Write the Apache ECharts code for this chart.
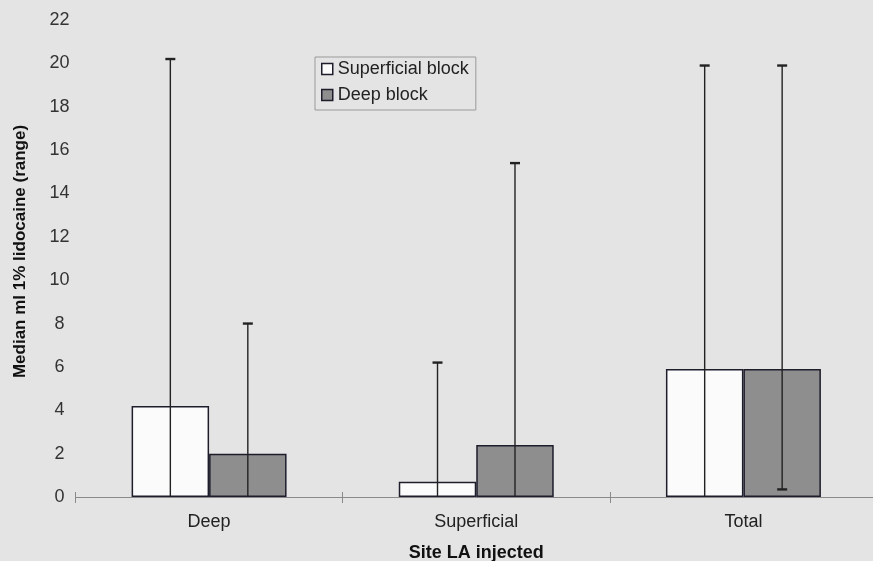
<!DOCTYPE html>
<html><head><meta charset="utf-8">
<script src="https://cdn.jsdelivr.net/npm/echarts@6/dist/echarts.min.js"></script>
<style>html,body{margin:0;padding:0;background:#e4e4e4}#c{width:873px;height:561px}</style>
</head><body><div id="c"></div>
<script>
// ---- data ----
const categories = ['Deep', 'Superficial', 'Total'];
const seriesNames = ['Superficial block', 'Deep block'];
const superficialMedian = [4.2, 0.7, 5.9];
const deepMedian = [2.0, 2.4, 5.9];
const superficialRangeLow = [0, 0, 0];
const superficialRangeHigh = [20.2, 6.2, 19.9];
const deepRangeLow = [0, 0, 0.35];
const deepRangeHigh = [8.0, 15.4, 19.9];
const yMin = 0, yMax = 22, yStep = 2;
const xTitle = 'Site LA injected';
const yTitle = 'Median ml 1% lidocaine (range)';

const CAT_GAP = 0.42;
const FONT = 'Liberation Sans, Arial, sans-serif';
const EDGE = '#1d1d2c';

function errorData(lo, hi) {
  return categories.map((c, i) => [i, lo[i], hi[i]]);
}
function makeErrorRenderer(side) {
  return function (params, api) {
    const cat = api.value(0), lo = api.value(1), hi = api.value(2);
    const band = api.size([1, 0])[0];
    const bw = band * (1 - CAT_GAP) / 2;
    const cx = api.coord([cat, 0])[0] + side * bw / 2;
    const yLo = api.coord([cat, lo])[1];
    const yHi = api.coord([cat, hi])[1];
    const cap = 5;
    const children = [
      { type: 'line', shape: { x1: cx, y1: yLo, x2: cx, y2: yHi }, style: { stroke: '#222', lineWidth: 1.4 } },
      { type: 'line', shape: { x1: cx - cap, y1: yHi, x2: cx + cap, y2: yHi }, style: { stroke: '#222', lineWidth: 2.4 } }
    ];
    if (lo > 0) {
      children.push({ type: 'line', shape: { x1: cx - cap, y1: yLo, x2: cx + cap, y2: yLo }, style: { stroke: '#222', lineWidth: 2.4 } });
    }
    return { type: 'group', children: children };
  };
}

const chart = echarts.init(document.getElementById('c'), null, { renderer: 'canvas' });
chart.setOption({
  backgroundColor: '#e4e4e4',
  animation: false,
  textStyle: { fontFamily: FONT },
  grid: { left: 75.5, right: -4, top: 20, bottom: 64, containLabel: false, outerBoundsMode: 'none' },
  legend: {
    orient: 'vertical', left: 315, top: 57,
    padding: [3, 7, 6, 6], itemGap: 8,
    itemWidth: 11, itemHeight: 11,
    borderColor: '#9a9a9a', borderWidth: 1,
    textStyle: { fontSize: 18, color: '#222', fontFamily: FONT },
    data: [
      { name: seriesNames[0], icon: 'rect', itemStyle: { color: '#fbfbfb', borderColor: EDGE, borderWidth: 1.5 } },
      { name: seriesNames[1], icon: 'rect', itemStyle: { color: '#8e8e8e', borderColor: EDGE, borderWidth: 1.5 } }
    ]
  },
  xAxis: [{
    type: 'category', data: categories,
    name: xTitle, nameLocation: 'middle', nameGap: 47,
    nameTextStyle: { fontSize: 18, fontWeight: 'bold', color: '#111', fontFamily: FONT },
    axisLine: { lineStyle: { color: '#8a8a8a', width: 1 } },
    axisTick: { show: true, length: 6, lineStyle: { color: '#8a8a8a' } },
    axisLabel: { fontSize: 18, color: '#222', margin: 16, fontFamily: FONT }
  }, {
    type: 'category', data: categories, position: 'bottom', gridIndex: 0,
    axisLine: { show: false },
    axisTick: { show: true, inside: true, length: 5, lineStyle: { color: '#8a8a8a' } },
    axisLabel: { show: false }
  }],
  yAxis: {
    type: 'value', min: yMin, max: yMax, interval: yStep,
    name: yTitle, nameLocation: 'middle', nameGap: 47, nameRotate: 90,
    nameTextStyle: { fontSize: 17, fontWeight: 'bold', color: '#111', fontFamily: FONT, padding: [0, 0, 0, 14] },
    axisLine: { show: false }, axisTick: { show: false }, splitLine: { show: false },
    axisLabel: { fontSize: 18, color: '#333', align: 'center', margin: 16, fontFamily: FONT }
  },
  series: [
    {
      name: seriesNames[0], type: 'bar', data: superficialMedian,
      barGap: '0%', barCategoryGap: (CAT_GAP * 100) + '%',
      itemStyle: { color: '#fbfbfb', borderColor: EDGE, borderWidth: 1.5 }
    },
    {
      name: seriesNames[1], type: 'bar', data: deepMedian,
      barGap: '0%', barCategoryGap: (CAT_GAP * 100) + '%',
      itemStyle: { color: '#8e8e8e', borderColor: EDGE, borderWidth: 1.5 }
    },
    {
      type: 'custom', name: 'err1', renderItem: makeErrorRenderer(-1),
      data: errorData(superficialRangeLow, superficialRangeHigh),
      encode: { x: 0, y: [1, 2] }, z: 5
    },
    {
      type: 'custom', name: 'err2', renderItem: makeErrorRenderer(1),
      data: errorData(deepRangeLow, deepRangeHigh),
      encode: { x: 0, y: [1, 2] }, z: 5
    }
  ]
});
</script>
</body></html>
